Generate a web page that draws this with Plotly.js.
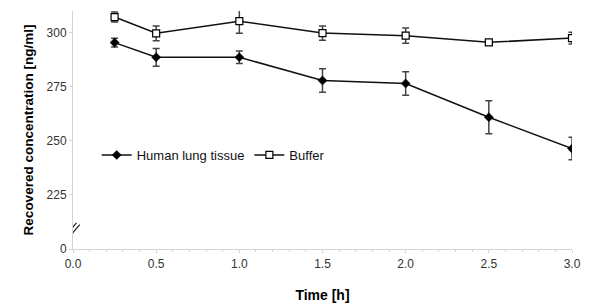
<!DOCTYPE html>
<html>
<head>
<meta charset="utf-8">
<script src="https://cdn.plot.ly/plotly-3.0.1.min.js"></script>
<style>
html,body{margin:0;padding:0;background:#fff;}
#chart{width:600px;height:305px;}
</style>
</head>
<body>
<div id="chart"></div>
<script>
// Time points [h]
var timeH = [0.25, 0.5, 1.0, 1.5, 2.0, 2.5, 3.0];
// Human lung tissue: mean and SD [ng/ml]
var lungMean = [295.4, 288.6, 288.6, 277.9, 276.5, 260.9, 246.4];
var lungSD   = [2.0, 4.1, 2.9, 5.4, 5.4, 7.6, 5.2];
// Buffer: mean and SD [ng/ml]
var bufMean = [307.2, 299.7, 305.3, 299.8, 298.6, 295.5, 297.5];
var bufSD   = [2.3, 3.4, 5.6, 3.3, 3.5, 1.2, 2.7];
// Y tick positions (broken axis: bottom shows 0)
var yTickVals = [200, 225, 250, 275, 300];
var yTickText = ['0', '225', '250', '275', '300'];
var seriesNames = ['Human lung tissue', 'Buffer'];

var font = 'Arial, "Liberation Sans", sans-serif';

var traces = [
  {
    x: timeH, y: lungMean, name: seriesNames[0], type: 'scatter', mode: 'lines+markers',
    line: {color: '#111', width: 1.5},
    marker: {symbol: 'diamond', size: 7, color: '#000', line: {color: '#000', width: 0.5}},
    error_y: {type: 'data', array: lungSD, visible: true, color: '#444', thickness: 1.5, width: 3.5}
  },
  {
    x: timeH, y: bufMean, name: seriesNames[1], type: 'scatter', mode: 'lines+markers',
    line: {color: '#111', width: 1.5},
    marker: {symbol: 'square', size: 7, color: '#fff', line: {color: '#000', width: 1.2}},
    error_y: {type: 'data', array: bufSD, visible: true, color: '#444', thickness: 1.5, width: 3.5}
  }
];

var breakLine = {color: '#222', width: 1.2};
var layout = {
  width: 600, height: 305,
  margin: {l: 73.3, r: 28, t: 10.5, b: 55.5},
  paper_bgcolor: '#fff', plot_bgcolor: '#fff',
  font: {family: font, size: 12, color: '#333'},
  showlegend: true,
  legend: {
    orientation: 'h', x: 0.0475, xanchor: 'left', y: 0.395, yanchor: 'middle',
    bgcolor: 'rgba(0,0,0,0)', font: {family: font, size: 13, color: '#111'},
    itemwidth: 30, tracegroupgap: 0
  },
  xaxis: {
    range: [0, 3.0], dtick: 0.5, tick0: 0, tickformat: '.1f',
    showgrid: false, zeroline: false, showline: true, linecolor: '#d4d4d4', linewidth: 1,
    ticks: 'outside', ticklen: 3, tickcolor: '#d4d4d4', ticklabelstandoff: 1,
    minor: {dtick: 0.1, ticks: 'outside', ticklen: 2, tickcolor: '#d4d4d4'},
    tickfont: {family: font, size: 12, color: '#333'},
    title: {text: '<b>Time [h]</b>', font: {family: font, size: 14, color: '#000'}, standoff: 19},
    fixedrange: true
  },
  yaxis: {
    range: [200, 310], tickvals: yTickVals, ticktext: yTickText,
    showgrid: false, zeroline: false, showline: true, linecolor: '#d4d4d4', linewidth: 1,
    ticks: 'outside', ticklen: 3, tickcolor: '#d4d4d4',
    tickfont: {family: font, size: 12, color: '#333'},
    title: {text: '<b>Recovered concentration [ng/ml]</b>', font: {family: font, size: 13.5, color: '#000'}, standoff: 9},
    fixedrange: true
  },
  shapes: [
    // hide the axis line below the break
    {type: 'line', xref: 'x', yref: 'y', x0: 0, x1: 0, y0: 200.4, y1: 207.5,
     line: {color: '#fff', width: 2}, layer: 'above'},
    // break marks
    {type: 'line', xref: 'x', xsizemode: 'pixel', xanchor: 0, yref: 'y', ysizemode: 'pixel', yanchor: 208.3,
     x0: -8.3, y0: -6.2, x1: 3.4, y1: 8.2, line: breakLine},
    {type: 'line', xref: 'x', xsizemode: 'pixel', xanchor: 0, yref: 'y', ysizemode: 'pixel', yanchor: 208.3,
     x0: -6, y0: -8.5, x1: 6.7, y1: 6.5, line: breakLine}
  ]
};

Plotly.newPlot('chart', traces, layout, {displayModeBar: false, staticPlot: true});
</script>
</body>
</html>
